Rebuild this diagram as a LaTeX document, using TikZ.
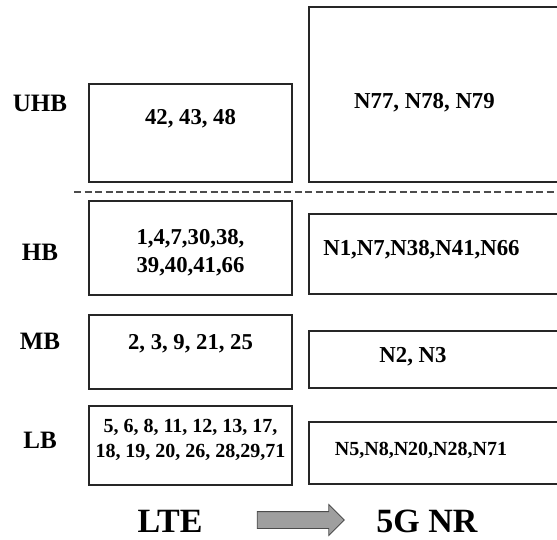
\documentclass[tikz,border=0pt]{standalone}
\usepackage{fontspec}
\setmainfont{Liberation Serif}
\usetikzlibrary{shapes.arrows,positioning}

\begin{document}
\begin{tikzpicture}[
    x=1pt, y=-1pt,
    every node/.style={font=\bfseries},
    % band boxes
    band/.style={
        rectangle,
        draw=black!85,
        line width=1.6pt,
        inner sep=0pt
    },
    ltetext/.style={font=\fontsize{22.7}{28}\selectfont\bfseries, align=center},
    nrtext/.style={font=\fontsize{22.8}{27}\selectfont\bfseries, align=center},
    bandname/.style={font=\fontsize{25}{28}\selectfont\bfseries},
    techname/.style={font=\fontsize{34}{38}\selectfont\bfseries}
]

\useasboundingbox (0,0) rectangle (557,539);

% Band names
\node[bandname] (uhb) at (40,103) {UHB};
\node[bandname] (hb)  at (40,252) {HB};
\node[bandname] (mb)  at (40,341) {MB};
\node[bandname] (lb)  at (40,440) {LB};

% LTE bands
\node[band, minimum width=203, minimum height=98,
      label={[ltetext, yshift=14pt]center:42, 43, 48}] (lte-uhb) at (190.5,133) {};
\node[band, minimum width=203, minimum height=94,
      label={[ltetext, yshift=-4.5pt]center:1,4,7,30,38,\\39,40,41,66}] (lte-hb) at (190.5,248) {};
\node[band, minimum width=203, minimum height=74,
      label={[ltetext, yshift=8pt]center:2, 3, 9, 21, 25}] (lte-mb) at (190.5,352) {};
\node[band, minimum width=203, minimum height=79,
      label={[ltetext, font=\fontsize{20}{25}\selectfont\bfseries, yshift=5.5pt]center:5, 6, 8, 11, 12, 13, 17,\\18, 19, 20, 26, 28,29,71}] (lte-lb) at (190.5,445.5) {};

% 5G NR bands
\node[band, minimum width=251, minimum height=175,
      label={[nrtext, xshift=-10pt, yshift=-8.5pt]center:N77, N78, N79}] (nr-uhb) at (434.5,94.5) {};
\node[band, minimum width=251, minimum height=80,
      label={[nrtext, xshift=-13pt, yshift=4pt]center:N1,N7,N38,N41,N66}] (nr-hb) at (434.5,254) {};
\node[band, minimum width=251, minimum height=57,
      label={[nrtext, xshift=-21.5pt, yshift=2.5pt]center:N2, N3}] (nr-mb) at (434.5,359.5) {};
\node[band, minimum width=251, minimum height=62,
      label={[nrtext, font=\fontsize{20}{24}\selectfont\bfseries, xshift=-13.5pt, yshift=3pt]center:N5,N8,N20,N28,N71}] (nr-lb) at (434.5,453) {};

% UHB boundary
\draw[gray!60!black, line width=1.2pt, dash pattern=on 7pt off 3.5pt] (74,192) -- (560,192);

% Migration
\node[techname] (lte) at (170,521) {LTE};
\node[techname] (nr)  at (427,521) {5G NR};
\node[single arrow, draw=gray!60!black, fill=gray!75, line width=0.8pt,
      minimum height=87, text height=8pt, text depth=8pt, single arrow head extend=7pt,
      single arrow head indent=0pt, inner sep=0pt] (shift) at (296.5,520) {};

\end{tikzpicture}
\end{document}
